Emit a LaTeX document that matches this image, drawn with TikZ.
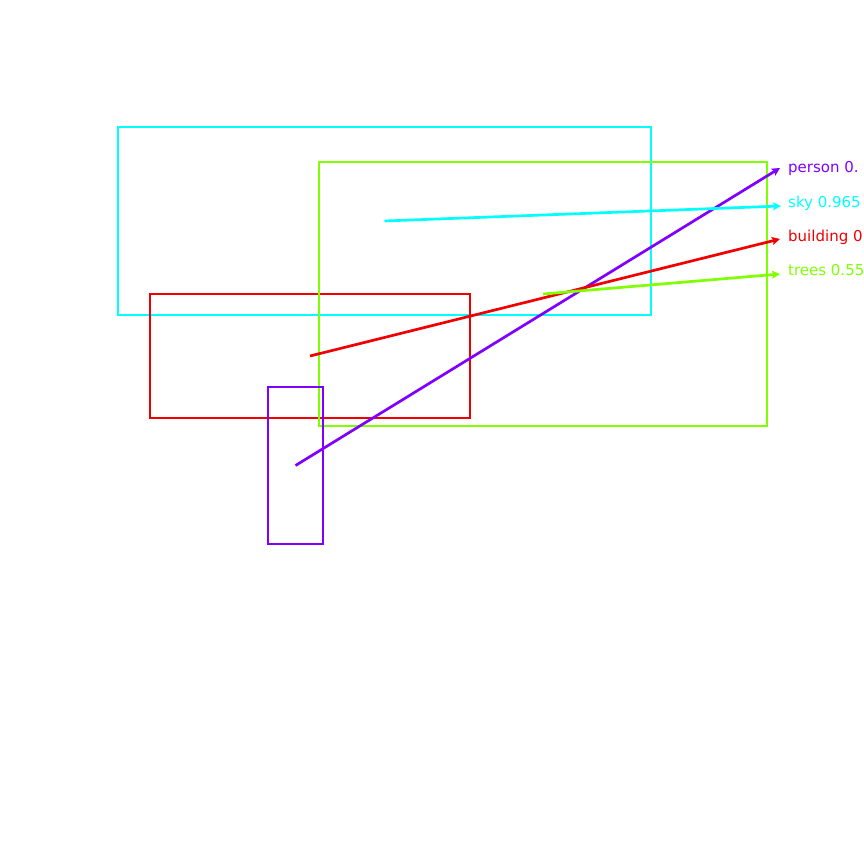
\documentclass[tikz,border=0pt]{standalone}
\usepackage{fontspec}
\setmainfont{DejaVu Sans}
\usetikzlibrary{arrows.meta}
\definecolor{cperson}{RGB}{128,0,255}
\definecolor{csky}{RGB}{0,255,255}
\definecolor{cbuild}{RGB}{240,0,0}
\definecolor{ctrees}{RGB}{128,255,0}
\begin{document}
\begin{tikzpicture}[x=1pt,y=-1pt,
  bbox/.style={draw,line width=1.6pt,inner sep=0pt,fill=none},
  conn/.style={line width=2.7pt,-{Stealth[length=8pt,width=8pt,inset=1.5pt]}},
  lbl/.style={anchor=base west,inner sep=0pt,font=\fontsize{15}{17}\selectfont}]
\useasboundingbox (0,0) rectangle (864,864);
\clip (0,0) rectangle (864,864);
\node[bbox,draw=csky,minimum width=533pt,minimum height=188pt] (sky) at (384.5,221) {};
\node[bbox,draw=cbuild,minimum width=320pt,minimum height=124pt] (building) at (310,356) {};
\node[bbox,draw=ctrees,minimum width=448pt,minimum height=264pt] (trees) at (543,294) {};
\node[bbox,draw=cperson,minimum width=55pt,minimum height=157pt] (person) at (295.5,465.5) {};
\node[lbl,text=cperson] (lp) at (788,172.5) {person 0.};
\node[lbl,text=csky] (ls) at (788,207) {sky 0.965};
\node[lbl,text=cbuild] (lb) at (788,241) {building 0};
\node[lbl,text=ctrees] (lt) at (788,275.5) {trees 0.55};
\coordinate (ep) at (780,168);
\coordinate (es) at (781,206);
\coordinate (eb) at (780,239);
\coordinate (et) at (780,274);
\draw[conn,cperson] (person.center) -- (ep);
\draw[conn,csky] (sky.center) -- (es);
\draw[conn,cbuild] (building.center) -- (eb);
\draw[conn,ctrees] (trees.center) -- (et);
\end{tikzpicture}
\end{document}
